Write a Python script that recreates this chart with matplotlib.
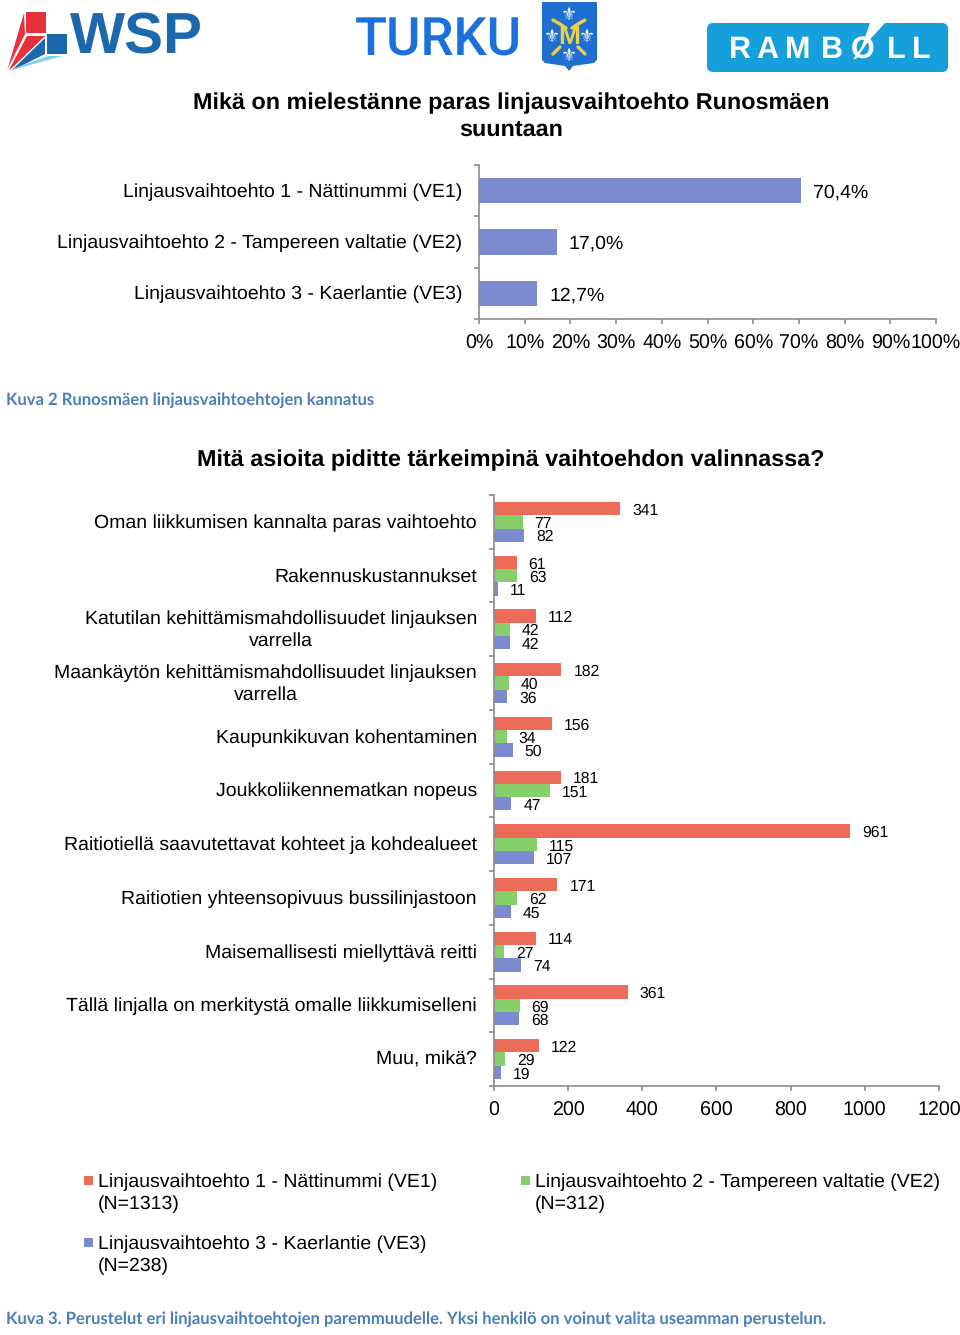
import matplotlib
matplotlib.use("Agg")
import matplotlib.pyplot as plt
from matplotlib.patches import Polygon, FancyBboxPatch, Rectangle

W, H = 960, 1335
plt.rcParams['font.family'] = ['Liberation Sans', 'DejaVu Sans']
plt.rcParams['text.hinting'] = 'no_hinting'
plt.rcParams['text.hinting_factor'] = 8

# ---- data ----
share_labels = ["Linjausvaihtoehto 1 - Nättinummi (VE1)",
                "Linjausvaihtoehto 2 - Tampereen valtatie (VE2)",
                "Linjausvaihtoehto 3 - Kaerlantie (VE3)"]
share_values = [70.4, 17.0, 12.7]
share_text = ["70,4%", "17,0%", "12,7%"]
pct_ticks = list(range(0, 101, 10))

reasons = ["Oman liikkumisen kannalta paras vaihtoehto",
           "Rakennuskustannukset",
           "Katutilan kehittämismahdollisuudet linjauksen\nvarrella",
           "Maankäytön kehittämismahdollisuudet linjauksen\nvarrella",
           "Kaupunkikuvan kohentaminen",
           "Joukkoliikennematkan nopeus",
           "Raitiotiellä saavutettavat kohteet ja kohdealueet",
           "Raitiotien yhteensopivuus bussilinjastoon",
           "Maisemallisesti miellyttävä reitti",
           "Tällä linjalla on merkitystä omalle liikkumiselleni",
           "Muu, mikä?"]
ve1 = [341, 61, 112, 182, 156, 181, 961, 171, 114, 361, 122]
ve2 = [77, 63, 42, 40, 34, 151, 115, 62, 27, 69, 29]
ve3 = [82, 11, 42, 36, 50, 47, 107, 45, 74, 68, 19]
series_names = ["Linjausvaihtoehto 1 - Nättinummi (VE1)\n(N=1313)",
                "Linjausvaihtoehto 2 - Tampereen valtatie (VE2)\n(N=312)",
                "Linjausvaihtoehto 3 - Kaerlantie (VE3)\n(N=238)"]
count_ticks = [0, 200, 400, 600, 800, 1000, 1200]

BLUE, RED, GREEN = "#7C8BCF", "#EC6A58", "#87CF6B"
AX = "#8C8C8C"
FS = 14.0
TICKFS = 14.1
TFS = 16.85
LS = 1.3
PAD = 7.4
CAPFS = 11.95

fig = plt.figure(figsize=(W / 100, H / 100), dpi=100, facecolor="white")


def axes_px(x0, y0, x1, y1):
    return fig.add_axes([x0 / W, 1 - y1 / H, (x1 - x0) / W, (y1 - y0) / H])


def style(ax):
    for s in ("top", "right"):
        ax.spines[s].set_visible(False)
    for s in ("left", "bottom"):
        ax.spines[s].set_color(AX)
        ax.spines[s].set_linewidth(1.2)
    ax.patch.set_alpha(0)


# ---- overlay (logos, titles, captions) in pixel coordinates ----
ov = fig.add_axes([0, 0, 1, 1], zorder=0)
ov.set_xlim(0, W)
ov.set_ylim(H, 0)
ov.axis("off")

# WSP logo
WRED, WBLUE, WLIGHT = "#E8303A", "#1C68AE", "#7FD0F0"
ov.add_patch(Rectangle((26, 12), 20, 21, fc=WRED, ec="none"))
ov.add_patch(Polygon([(7, 71), (24, 13), (25, 34), (9, 66)], closed=True, fc=WRED, ec="none"))
ov.add_patch(Polygon([(9, 70), (27, 36), (45, 36), (12, 68)], closed=True, fc=WRED, ec="none"))
ov.add_patch(Rectangle((47, 34), 20, 20, fc=WBLUE, ec="none"))
ov.add_patch(Polygon([(13, 69), (45, 38), (45, 54), (15, 69)], closed=True, fc=WBLUE, ec="none"))
ov.add_patch(Polygon([(9, 71), (62, 56), (48, 56), (12, 69)], closed=True, fc=WLIGHT, ec="none"))
ov.text(70, 53, "WSP", fontsize=42, fontweight="bold", color=WBLUE, va="baseline", ha="left")

# Turku logo
TBLUE = "#1C70DC"
ov.text(355, 55, "TURKU", fontsize=38, family="Roboto", fontweight="medium", color=TBLUE, va="baseline", ha="left")
ov.add_patch(Polygon([(542, 2), (597, 2), (597, 60), (594, 63), (573, 66), (569, 71), (565, 66), (545, 63), (542, 60)],
                     closed=True, fc="#1E6FD0", ec="none"))
for fx, fy in ((569, 15), (552, 37), (587, 37), (569, 56)):
    ov.text(fx, fy, "\u269c", fontsize=13, family="DejaVu Sans", color="white", ha="center", va="center")
GOLD = "#EBCF45"
ov.text(569, 37, "M", fontsize=19, fontweight="bold", color=GOLD, ha="center", va="center")
ov.plot([553, 560, 566], [20, 24, 28], color=GOLD, lw=2.4, solid_capstyle="round")
ov.plot([585, 578, 572], [20, 24, 28], color=GOLD, lw=2.4, solid_capstyle="round")
ov.plot([553, 560], [54, 47], color=GOLD, lw=2.4, solid_capstyle="round")
ov.plot([585, 578], [54, 47], color=GOLD, lw=2.4, solid_capstyle="round")

# Ramboll logo
RB = "#15A0DC"
ov.add_patch(FancyBboxPatch((707, 23), 241, 49, boxstyle="round,pad=0,rounding_size=6", fc=RB, ec="none"))
for ch, cx in zip("RAMBØLL", (740, 767, 798, 832, 863, 896, 921)):
    ov.text(cx, 58, ch, fontsize=22, fontweight="bold", color="white", va="baseline", ha="center")
ov.add_patch(Polygon([(870, 23), (885, 23), (864, 46), (862, 46)], closed=True, fc="white", ec="none"))

# titles
ov.text(511, 103, "Mikä on mielestänne paras linjausvaihtoehto Runosmäen", fontsize=TFS, fontweight="bold", ha="center", va="center")
ov.text(511, 130, "suuntaan", fontsize=TFS, fontweight="bold", ha="center", va="center")
ov.text(511, 460, "Mitä asioita piditte tärkeimpinä vaihtoehdon valinnassa?", fontsize=TFS, fontweight="bold", ha="center", va="center")

# captions
CAP = "#4A7EBB"
ov.text(6, 400, "Kuva 2 Runosmäen linjausvaihtoehtojen kannatus", fontsize=CAPFS, fontweight="bold", family="Lato", color=CAP, va="center")
ov.text(6, 1319, "Kuva 3. Perustelut eri linjausvaihtoehtojen paremmuudelle. Yksi henkilö on voinut valita useamman perustelun.",
        fontsize=CAPFS, fontweight="bold", family="Lato", color=CAP, va="center")

# ---- top chart ----
ax = axes_px(479, 165, 936, 319)
style(ax)
ypos = range(len(share_values))
ax.barh(ypos, share_values, height=0.49, color=BLUE)
ax.set_xlim(0, 100)
ax.set_ylim(2.5, -0.5)
ax.set_yticks([-0.5, 0.5, 1.5, 2.5])
ax.set_yticklabels([])
ax.tick_params(axis="y", direction="out", length=3.6, color=AX, width=1.2)
ax.set_xticks(pct_ticks)
ax.set_xticklabels([f"{t}%" for t in pct_ticks], fontsize=TICKFS)
ax.tick_params(axis="x", direction="out", length=3.6, color=AX, width=1.2, pad=PAD)
for y, lab in zip(ypos, share_labels):
    ax.annotate(lab, (0, y), xytext=(-17, -1), textcoords="offset pixels", ha="right", va="center", fontsize=FS)
for y, v, t in zip(ypos, share_values, share_text):
    ax.annotate(t, (v, y), xytext=(12, -2), textcoords="offset pixels", ha="left", va="center", fontsize=FS)

# ---- bottom chart ----
ax2 = axes_px(494, 495, 939, 1086)
style(ax2)
n = len(reasons)
h = 0.248
for off, vals, col in ((-h, ve1, RED), (0, ve2, GREEN), (h, ve3, BLUE)):
    pos = [i + off for i in range(n)]
    ax2.barh(pos, vals, height=h, color=col)
    for p, v in zip(pos, vals):
        ax2.annotate(str(v), (v, p), xytext=(12, -2), textcoords="offset pixels", ha="left", va="center", fontsize=11.3)
ax2.set_xlim(0, 1200)
ax2.set_ylim(n - 0.5, -0.5)
ax2.set_yticks([i - 0.5 for i in range(n + 1)])
ax2.set_yticklabels([])
ax2.tick_params(axis="y", direction="out", length=3.6, color=AX, width=1.2)
ax2.set_xticks(count_ticks)
ax2.set_xticklabels([str(t) for t in count_ticks], fontsize=TICKFS)
ax2.tick_params(axis="x", direction="out", length=3.6, color=AX, width=1.2, pad=PAD)
for i, lab in enumerate(reasons):
    ax2.annotate(lab, (0, i), xytext=(-17, -1), textcoords="offset pixels", ha="right", va="center",
                 multialignment="center", fontsize=FS, linespacing=LS)

# ---- legend ----
legend_pos = [(84, 1180), (521, 1180), (84, 1242)]
for (x, y), name, col in zip(legend_pos, series_names, (RED, GREEN, BLUE)):
    ov.add_patch(Rectangle((x, y - 4), 9, 9, fc=col, ec="none"))
    ov.text(x + 14, y + 13, name, fontsize=FS, va="center", ha="left", linespacing=LS)

fig.savefig("out.png", dpi=100)
